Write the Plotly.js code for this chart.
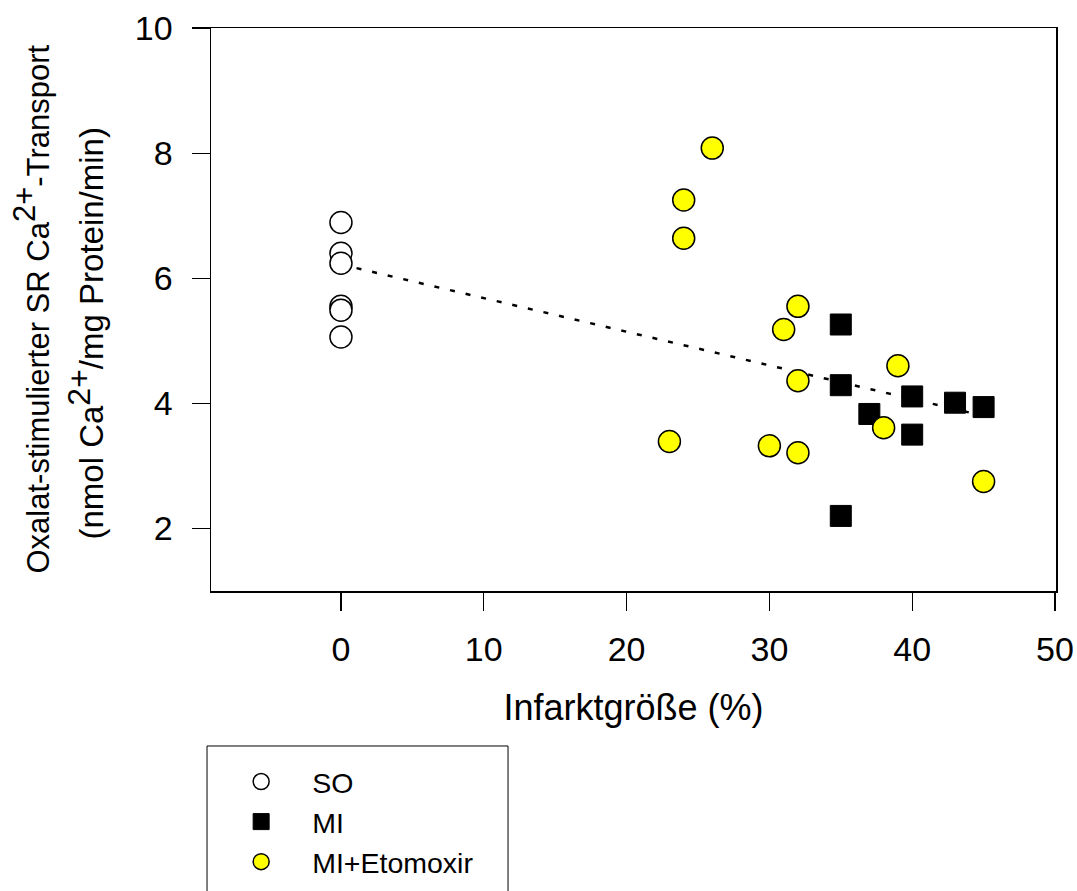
<!DOCTYPE html>
<html>
<head>
<meta charset="utf-8">
<script src="https://cdn.plot.ly/plotly-3.0.1.min.js"></script>
<style>html,body{margin:0;padding:0;background:#fff;}#chart{width:1077px;height:891px;}</style>
</head>
<body>
<div id="chart"></div>
<script>
// Data
const soX = [0, 0, 0, 0, 0, 0];
const soY = [6.89, 6.40, 6.24, 5.55, 5.49, 5.06];

const miX = [35, 35, 37, 40, 40, 35, 43, 45];
const miY = [5.26, 4.29, 3.83, 4.11, 3.50, 2.20, 4.01, 3.94];

const etoX = [26, 24, 24, 32, 31, 32, 39, 38, 23, 30, 32, 45];
const etoY = [8.08, 7.25, 6.64, 5.55, 5.18, 4.36, 4.60, 3.61, 3.39, 3.32, 3.21, 2.75];

const fitX = [0, 45];
const fitY = [6.22, 3.80];

const xTicks = [0, 10, 20, 30, 40, 50];
const yTicks = [2, 4, 6, 8, 10];

const seriesNames = ['SO', 'MI', 'MI+Etomoxir'];
const xTitle = 'Infarktgröße (%)';
const yTitle1 = 'Oxalat-stimulierter SR Ca<sup><span style="font-size:31px">2+</span></sup>-Transport';
const yTitle2 = '(nmol Ca<sup><span style="font-size:32px">2+</span></sup>/mg Protein/min)';

const FONT = 'Liberation Sans, Arial, Helvetica, sans-serif';

const traces = [
  {
    x: fitX, y: fitY, mode: 'lines', showlegend: false, hoverinfo: 'skip',
    line: {color: '#000', width: 2.5, dash: '5px,11px'}
  },
  {
    x: soX, y: soY, mode: 'markers', name: seriesNames[0],
    marker: {symbol: 'circle', size: 22, color: '#ffffff', line: {color: '#000', width: 1.5}}
  },
  {
    x: miX, y: miY, mode: 'markers', name: seriesNames[1],
    marker: {symbol: 'square', size: 21, color: '#000000', line: {color: '#000', width: 1}}
  },
  {
    x: etoX, y: etoY, mode: 'markers', name: seriesNames[2],
    marker: {symbol: 'circle', size: 22, color: '#ffff00', line: {color: '#000', width: 1.5}}
  }
];

const layout = {
  width: 1077, height: 891,
  margin: {l: 211, r: 21, t: 28, b: 300, pad: 0, autoexpand: false},
  paper_bgcolor: '#fff', plot_bgcolor: '#fff',
  font: {family: FONT, color: '#000'},
  showlegend: true,
  xaxis: {
    range: [-9.1, 50.07], tickvals: xTicks, ticktext: xTicks.map(String),
    ticks: 'outside', ticklen: 18, tickwidth: 1.2, tickcolor: '#000',
    ticklabelstandoff: 10,
    showgrid: false, zeroline: false,
    showline: true, mirror: true, linecolor: '#000', linewidth: 1.5,
    tickfont: {size: 34, family: FONT, color: '#000'},
    title: {text: xTitle, font: {size: 36, family: FONT, color: '#000'}, standoff: 27},
    automargin: false
  },
  yaxis: {
    range: [1, 10.0], tickvals: yTicks, ticktext: yTicks.map(String),
    ticks: 'outside', ticklen: 18, tickwidth: 1.2, tickcolor: '#000',
    ticklabelstandoff: 12,
    showgrid: false, zeroline: false,
    showline: true, mirror: true, linecolor: '#000', linewidth: 1.5,
    tickfont: {size: 34, family: FONT, color: '#000'},
    automargin: false
  },
  legend: {
    x: -0.001, y: -0.294, xanchor: 'left', yanchor: 'top',
    bgcolor: 'rgba(0,0,0,0)', borderwidth: 0,
    font: {size: 28.5, family: FONT, color: '#000'},
    itemwidth: 92, traceorder: 'normal'
  },
  shapes: [
    {type: 'rect', xref: 'paper', yref: 'paper',
     x0: -0.0047, x1: 0.3515, y0: -0.2753, y1: -0.56,
     line: {color: '#000', width: 1}, fillcolor: 'rgba(0,0,0,0)'}
  ],
  annotations: [
    {text: yTitle1, xref: 'paper', yref: 'paper', x: 0, y: 0.5,
     xanchor: 'center', yanchor: 'middle', xshift: -180, yshift: 0,
     textangle: -90, showarrow: false, font: {size: 31, family: FONT, color: '#000'}},
    {text: yTitle2, xref: 'paper', yref: 'paper', x: 0, y: 0.5,
     xanchor: 'center', yanchor: 'middle', xshift: -126, yshift: -24,
     textangle: -90, showarrow: false, font: {size: 33, family: FONT, color: '#000'}}
  ]
};

Plotly.newPlot('chart', traces, layout, {displayModeBar: false, staticPlot: true});
</script>
</body>
</html>
